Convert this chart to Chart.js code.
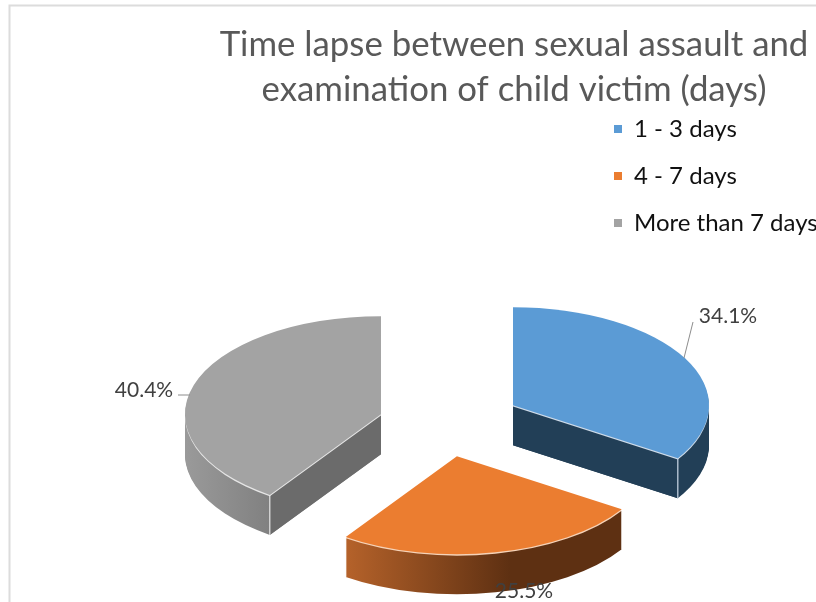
<!DOCTYPE html>
<html>
<head>
<meta charset="utf-8">
<style>html,body{margin:0;padding:0;background:#fff;overflow:hidden}canvas{display:block}</style>
<script src="https://cdn.jsdelivr.net/npm/chart.js@4"></script>
</head>
<body>
<canvas id="c" width="816" height="602"></canvas>
<script>
const categories = ['1 - 3 days', '4 - 7 days', 'More than 7 days'];
const shares = [34.1, 25.5, 40.4];
const topColours = ['#5B9BD5', '#EB7D30', '#A3A3A3'];
const chartTitle = ['Time lapse between sexual assault and', 'examination of child victim (days)'];

// 3D look
const tilt = 0.5, depth = 40;
const explode = [78.6, 65.7, 66];
const edgeColours = ['#cfdcea', '#f6d3b8', '#e6e6e6'];
const wallColours = ['#223F57', '#5E3012', '#6B6B6B'];
const rimStops = [
  [[0, '#223F57'], [1, '#223F57']],
  [[0.217, '#B5622A'], [0.635, '#5E3012'], [1, '#5E3012']],
  [[0, '#9A9A9A'], [0.22, '#808080'], [1, '#808080']]
];
const labelSpots = [
  {x: 728, y: 316, lead: [[693, 322], [684, 358]]},
  {x: 524, y: 591, lead: null},
  {x: 144, y: 390, lead: [[178, 395], [190, 395]]}
];

function placement(arc, i) {
  const mid = (arc.startAngle + arc.endAngle) / 2;
  const off = explode[i];
  return {x: arc.x + Math.cos(mid) * off, y: arc.y + Math.sin(mid) * off * tilt};
}
function paintTop(ctx, arc, i, shift, fill) {
  const p = placement(arc, i), saved = arc.options;
  arc.options = {...saved, offset: 0, spacing: 0, borderWidth: 0, backgroundColor: fill};
  ctx.save();
  ctx.translate(p.x, p.y + shift);
  ctx.scale(1, tilt);
  ctx.translate(-arc.x, -arc.y);
  arc.draw(ctx);
  ctx.restore();
  arc.options = saved;
}
function wallFor(ctx, arc, i, angle) {
  const mid = (arc.startAngle + arc.endAngle) / 2, r = arc.outerRadius;
  const ex = Math.cos(angle), ey = Math.sin(angle) * tilt;
  const mx = Math.cos(mid), my = Math.sin(mid) * tilt;
  const side = ex * my - ey * mx;
  if (side * ex >= -1e-6) return;
  const p = placement(arc, i), rx = p.x + ex * r, ry = p.y + ey * r;
  ctx.fillStyle = wallColours[i];
  ctx.beginPath();
  ctx.moveTo(p.x, p.y); ctx.lineTo(rx, ry); ctx.lineTo(rx, ry + depth); ctx.lineTo(p.x, p.y + depth);
  ctx.closePath(); ctx.fill();
  ctx.strokeStyle = edgeColours[i]; ctx.lineWidth = 1.2;
  ctx.beginPath(); ctx.moveTo(rx, ry); ctx.lineTo(rx, ry + depth); ctx.stroke();
}

const piePlugin = {
  id: 'tiltedPie',
  beforeDraw(chart) {
    const ctx = chart.ctx;
    ctx.save();
    ctx.strokeStyle = '#DCDCDC'; ctx.lineWidth = 2;
    ctx.beginPath(); ctx.moveTo(9.5, 602); ctx.lineTo(9.5, 5.5); ctx.lineTo(816, 5.5); ctx.stroke();
    ctx.restore();
  },
  afterLayout(chart) {
    const t = chart.titleBlock, l = chart.legend;
    t.left = 212; t.right = 816; t.top = 22.5;
    l.left = 591; l.right = 816; l.top = 94; l.bottom = 602;
  },
  beforeDatasetsDraw(chart) {
    const ctx = chart.ctx, arcs = chart.getDatasetMeta(0).data;
    [2, 0, 1].forEach(i => {
      const arc = arcs[i];
      const r = arc.outerRadius;
      const g = ctx.createLinearGradient(arc.x - r, 0, arc.x + r, 0);
      rimStops[i].forEach(s => g.addColorStop(s[0], s[1]));
      for (let d = depth; d >= 2; d--) paintTop(ctx, arc, i, d, g);
      wallFor(ctx, arc, i, arc.startAngle);
      wallFor(ctx, arc, i, arc.endAngle);
      paintTop(ctx, arc, i, 1.4, edgeColours[i]);
      paintTop(ctx, arc, i, 0, topColours[i]);
    });
    return false;
  },
  afterDraw(chart) {
    const ctx = chart.ctx;
    ctx.save();
    ctx.font = '21px Lato';
    ctx.textAlign = 'center'; ctx.textBaseline = 'middle';
    shares.forEach((v, i) => {
      const s = labelSpots[i];
      if (s.lead) {
        ctx.strokeStyle = '#8C8C8C'; ctx.lineWidth = 1;
        ctx.beginPath(); ctx.moveTo(s.lead[0][0], s.lead[0][1]); ctx.lineTo(s.lead[1][0], s.lead[1][1]); ctx.stroke();
      }
      ctx.fillStyle = '#404040';
      ctx.fillText(v.toFixed(1) + '%', s.x, s.y);
    });
    ctx.restore();
  }
};

new Chart(document.getElementById('c'), {
  type: 'pie',
  data: {
    labels: categories,
    datasets: [{data: shares, backgroundColor: topColours, borderWidth: 0, offset: explode}]
  },
  plugins: [piePlugin],
  options: {
    responsive: false,
    animation: false,
    radius: 196,
    rotation: 0,
    layout: {padding: {left: 72, top: 156, right: 0, bottom: 0}},
    plugins: {
      tooltip: {enabled: false},
      title: {
        display: true,
        text: chartTitle,
        color: '#595959',
        padding: 0,
        font: {family: 'Lato', size: 34.8, weight: 'normal', lineHeight: 1.293}
      },
      legend: {
        position: 'chartArea',
        align: 'start',
        labels: {
          color: '#111111',
          boxWidth: 8, boxHeight: 8, padding: 23,
          font: {family: 'Lato', size: 24}
        }
      }
    }
  }
});
</script>
</body>
</html>
